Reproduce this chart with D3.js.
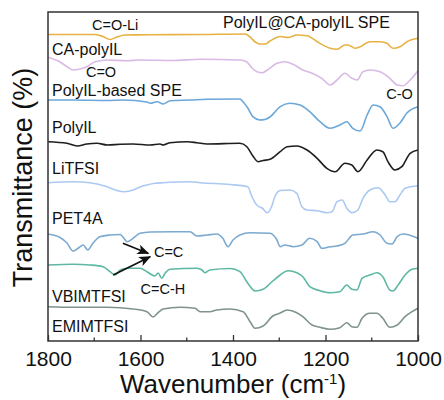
<!DOCTYPE html>
<html>
<head>
<meta charset="utf-8">
<script src="https://cdn.jsdelivr.net/npm/d3@7/dist/d3.min.js"></script>
<style>
  html, body { margin: 0; padding: 0; background: #fff; }
  svg { display: block; font-family: "Liberation Sans", Arial, sans-serif; }
</style>
</head>
<body>
<svg id="chart" width="444" height="400"></svg>
<script>
// FTIR spectra, stacked with vertical offsets (transmittance in arbitrary units)
const xTicks = [1800, 1600, 1400, 1200, 1000];
const xMinorTicks = [1700, 1500, 1300, 1100];

const seriesNames = ["PolyIL@CA-polyIL SPE", "CA-polyIL", "PolyIL-based SPE", "PolyIL",
                     "LiTFSI", "PET4A", "VBIMTFSI", "EMIMTFSI"];
const seriesColors = ["#e8b142", "#d9b9e6", "#6ba7d8", "#1e1e1e",
                      "#abc9f1", "#7ba9cf", "#5db8a3", "#7f938c"];

// [wavenumber (cm-1), transmittance (a.u., offset)]
const spePolyILCA = [[1800,306.5],[1698,306.5],[1681,304.5],[1666,301.5],[1651,304],[1634,306],[1579,306.2],
  [1471,306.5],[1374,307],[1363,304],[1352,299],[1342,297],[1331,297],[1320,300],[1298,304.5],[1281,303.5],
  [1262,306],[1240,305.3],[1218,299.3],[1190,292.7],[1175,291.7],[1158,296],[1151,296],[1136,292.7],
  [1125,294.3],[1104,299.3],[1082,299.3],[1067,297.7],[1054,292.7],[1039,294.3],[1024,299.3],[1000,302.7]];

const caPolyIL = [[1800,283.7],[1774,279],[1759,274.3],[1746,271],[1731,272],[1716,274.3],[1698,279.3],
  [1672,281],[1629,280.3],[1601,281],[1530,280.5],[1471,281.7],[1385,281],[1370,279],[1359,273],[1348,269.3],
  [1337,268.3],[1326,271],[1305,277.7],[1288,279.3],[1270,276.7],[1249,271],[1229,267.7],[1208,262.7],
  [1190,256],[1175,261],[1158,267.7],[1143,262.7],[1132,261],[1119,269.3],[1104,271],[1082,269.3],
  [1061,262.7],[1045,256],[1032,255.3],[1017,261],[1000,270.3]];

const polyILSPE = [[1800,241],[1746,241],[1672,240.5],[1638,241],[1586,239],[1579,237.7],[1564,239.3],
  [1551,237],[1536,240.3],[1493,241],[1456,241.7],[1385,242],[1378,239],[1368,233],[1357,224.3],[1342,221],
  [1331,221.5],[1320,224],[1298,234.3],[1277,237.7],[1255,236],[1234,229.3],[1212,219.3],[1190,212.7],
  [1169,216],[1154,219.3],[1141,212.7],[1125,210],[1110,226],[1097,236],[1082,234.3],[1067,224.3],
  [1054,212.7],[1039,218],[1024,228],[1000,234.3]];

const polyIL = [[1800,199.3],[1759,197.7],[1737,195],[1716,197],[1694,197.7],[1672,196],[1644,196.7],
  [1616,197],[1579,196],[1558,197],[1551,196],[1536,198.3],[1499,199.3],[1478,198.3],[1456,197],[1385,197.7],
  [1370,194.3],[1357,185],[1346,179.3],[1335,180.5],[1320,181.7],[1298,189.3],[1283,194.3],[1262,195],
  [1240,191],[1218,182.7],[1197,172.7],[1179,169.3],[1158,177.7],[1143,176],[1130,169.3],[1110,181],
  [1089,191],[1076,189.3],[1065,179.3],[1050,171],[1035,174.3],[1017,187.7],[1000,191]];

const liTFSI = [[1800,158.3],[1746,159.3],[1709,158.3],[1672,154.3],[1651,150.5],[1634,149.3],[1616,151],
  [1601,154],[1586,156],[1569,157.7],[1551,158.3],[1493,159.3],[1471,158.3],[1406,156.5],[1368,154.3],
  [1359,144.3],[1352,138],[1346,135],[1337,133],[1326,128.3],[1316,135],[1309,145],[1298,150.5],[1277,151],
  [1262,147.7],[1251,134.3],[1240,131],[1218,130.3],[1197,128.3],[1186,129.3],[1175,139.3],[1164,141],
  [1154,132.7],[1143,128.3],[1130,131],[1119,142.7],[1104,151],[1086,153.3],[1071,146],[1061,139.3],
  [1050,139.3],[1039,146],[1028,152.7],[1000,155.3]];

const pet4A = [[1800,107],[1774,103.5],[1759,98],[1746,90],[1735,92.7],[1724,96],[1714,91],[1703,97.7],
  [1688,104.3],[1666,106],[1644,106.5],[1638,104],[1629,99.3],[1616,102.7],[1601,107.7],[1579,109],
  [1530,109.3],[1493,109.3],[1478,105],[1456,106],[1435,107],[1422,102.7],[1411,94.3],[1400,101],
  [1385,106],[1363,108.3],[1320,107.7],[1305,101],[1298,94.3],[1288,96],[1270,94.3],[1251,96],
  [1234,102.7],[1218,99.3],[1208,92.7],[1190,94.3],[1175,95],[1158,97.7],[1141,106],[1119,107],
  [1097,109.3],[1082,106],[1067,97.7],[1056,97],[1045,104.3],[1032,107],[1000,102.7]];

const vbimTFSI = [[1800,76],[1746,76.7],[1709,76],[1681,74.3],[1666,69.3],[1655,66],[1644,71],[1629,72.7],
  [1601,72.7],[1586,69.3],[1569,65],[1562,68],[1554,62.7],[1547,67.7],[1536,71.7],[1478,72.7],[1467,71],
  [1461,68.3],[1450,71],[1406,72.5],[1385,69.3],[1368,57.7],[1352,50],[1335,51.7],[1314,60],[1298,66],
  [1281,70.3],[1262,68.3],[1249,64.3],[1234,54.3],[1212,50.3],[1190,48.3],[1169,49.3],[1154,56],
  [1143,51.7],[1132,51],[1121,62.7],[1104,66],[1089,68.3],[1076,64.3],[1061,51],[1054,50],[1043,56],
  [1028,66],[1013,71.7],[1000,72.7]];

const emimTFSI = [[1800,34.3],[1746,33.7],[1672,33.7],[1616,32],[1586,29.3],[1573,24],[1562,28.3],
  [1551,32],[1515,33.7],[1482,32.7],[1471,29.3],[1450,29.3],[1435,31],[1406,32],[1378,29.3],[1363,19.3],
  [1352,12.7],[1335,15],[1314,25],[1298,28],[1283,31],[1262,28.3],[1249,24.3],[1229,16],[1212,13.7],
  [1190,11.7],[1169,13.3],[1154,18.3],[1143,14.3],[1132,13.7],[1121,22.7],[1104,27.7],[1089,27.7],
  [1076,22.7],[1061,13.7],[1045,16],[1028,24.3],[1013,29.3],[1000,32.7]];

const spectra = [spePolyILCA, caPolyIL, polyILSPE, polyIL, liTFSI, pet4A, vbimTFSI, emimTFSI];

// Band assignments: [text, wavenumber, a.u.]
const bandLabels = [["C=O-Li", 1705, 311], ["C=O", 1718, 264], ["C-O", 1040, 242],
                    ["C=C", 1571, 84], ["C=C-H", 1600, 47]];
// Arrows pointing at the C=C bands: [from wn, from a.u., to wn, to a.u.]
const arrows = [[1638, 97.7, 1583, 87.5], [1659, 66, 1579, 84.3]];

const svg = d3.select("#chart");
const margin = {left: 48, right: 26, top: 12, bottom: 59};
const W = 444, H = 400;
const x = d3.scaleLinear().domain([1800, 1000]).range([margin.left, W - margin.right]);
const y = d3.scaleLinear().domain([0, 329]).range([H - margin.bottom, margin.top]);

const line = d3.line().x(d => x(d[0])).y(d => y(d[1])).curve(d3.curveMonotoneX);

svg.append("g").selectAll("path").data(spectra).join("path")
  .attr("d", line)
  .attr("fill", "none")
  .attr("stroke", (d, i) => seriesColors[i])
  .attr("stroke-width", 1.6)
  .attr("stroke-linejoin", "round");

// Frame
svg.append("rect")
  .attr("x", margin.left).attr("y", margin.top)
  .attr("width", W - margin.left - margin.right)
  .attr("height", H - margin.top - margin.bottom)
  .attr("fill", "none").attr("stroke", "#333").attr("stroke-width", 1.5);

// Bottom axis with inward ticks
const axisY = H - margin.bottom;
const xAxis = svg.append("g").attr("transform", `translate(0,${axisY})`);
xAxis.call(d3.axisBottom(x).tickValues(xTicks).tickSize(-6).tickPadding(0).tickFormat(d3.format("d")));
xAxis.select(".domain").remove();
xAxis.selectAll(".tick line").attr("stroke", "#333").attr("stroke-width", 1.3);
xAxis.selectAll(".tick text").attr("font-size", 21).attr("fill", "#111")
  .attr("y", 25).attr("dy", 0);
svg.append("g").selectAll("line").data(xMinorTicks).join("line")
  .attr("x1", d => x(d)).attr("x2", d => x(d))
  .attr("y1", axisY).attr("y2", axisY - 3.5)
  .attr("stroke", "#333").attr("stroke-width", 1.3);

// Axis titles
const xTitle = svg.append("text")
  .attr("x", (margin.left + W - margin.right) / 2).attr("y", 393)
  .attr("text-anchor", "middle").attr("font-size", 26).attr("fill", "#111");
xTitle.append("tspan").text("Wavenumber (cm");
xTitle.append("tspan").text("-1").attr("font-size", 15).attr("dy", -9.5);
xTitle.append("tspan").text(")").attr("dy", 9.5);

svg.append("text")
  .attr("transform", `translate(32,${(margin.top + axisY) / 2 + 1}) rotate(-90)`)
  .attr("text-anchor", "middle").attr("font-size", 27).attr("fill", "#111")
  .text("Transmittance (%)");

// Sample names
const nameBaselines = [27.7, 55, 96, 132.7, 174.3, 224, 301.7, 331.7];
svg.append("g").selectAll("text").data(seriesNames).join("text")
  .attr("x", (d, i) => i === 0 ? 223 : 52)
  .attr("y", (d, i) => nameBaselines[i])
  .attr("font-size", 16).attr("fill", "#111")
  .text(d => d);

// Band labels
svg.append("g").selectAll("text").data(bandLabels).join("text")
  .attr("x", d => x(d[1])).attr("y", d => y(d[2]))
  .attr("text-anchor", (d, i) => i === 2 ? "middle" : "start")
  .attr("font-size", 14.5).attr("fill", "#111")
  .text(d => d[0]);

// Arrowheads
svg.append("defs").append("marker")
  .attr("id", "head").attr("viewBox", "0 0 12 10")
  .attr("refX", 11).attr("refY", 5)
  .attr("markerWidth", 12).attr("markerHeight", 10)
  .attr("markerUnits", "userSpaceOnUse").attr("orient", "auto")
  .append("path").attr("d", "M0,0 L12,5 L0,10 L3,5 Z").attr("fill", "#111");

svg.append("g").selectAll("line").data(arrows).join("line")
  .attr("x1", d => x(d[0])).attr("y1", d => y(d[1]))
  .attr("x2", d => x(d[2])).attr("y2", d => y(d[3]))
  .attr("stroke", "#111").attr("stroke-width", 1.6)
  .attr("marker-end", "url(#head)");
</script>
</body>
</html>
